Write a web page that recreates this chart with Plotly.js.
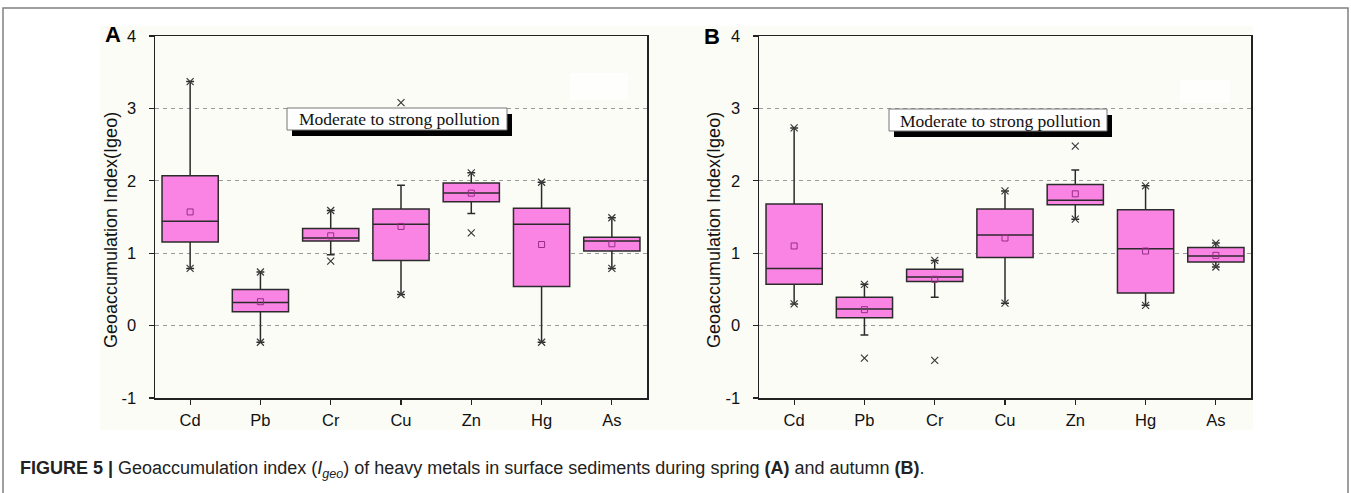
<!DOCTYPE html>
<html>
<head>
<meta charset="utf-8">
<script src="https://cdn.plot.ly/plotly-3.0.1.min.js"></script>
<style>html,body{margin:0;padding:0;background:#fff;}#chart{width:1351px;height:493px;}</style>
</head>
<body>
<div id="chart"></div>
<script>
// ---- data ----
const metals = ["Cd", "Pb", "Cr", "Cu", "Zn", "Hg", "As"];
const yTicks = [-1, 0, 1, 2, 3, 4];
const yTickText = ["-1", "0", "1", "2", "3", "4"];

// Panel A (spring)
const lowA    = [0.79, -0.23, 0.98, 0.43, 1.55, -0.23, 0.79];
const q1A     = [1.155, 0.19, 1.17, 0.90, 1.71, 0.54, 1.03];
const medianA = [1.44, 0.32, 1.21, 1.40, 1.83, 1.40, 1.17];
const q3A     = [2.07, 0.50, 1.34, 1.61, 1.97, 1.62, 1.22];
const highA   = [3.37, 0.74, 1.59, 1.94, 2.11, 1.98, 1.49];
const meanA   = [1.57, 0.33, 1.24, 1.37, 1.83, 1.12, 1.13];
const minA    = [0.79, -0.23, 0.89, 0.43, 1.28, -0.23, 0.79];
const maxA    = [3.37, 0.74, 1.59, 3.08, 2.11, 1.98, 1.49];

// Panel B (autumn)
const lowB    = [0.30, -0.13, 0.39, 0.31, 1.47, 0.28, 0.81];
const q1B     = [0.57, 0.11, 0.61, 0.94, 1.67, 0.45, 0.88];
const medianB = [0.79, 0.23, 0.67, 1.25, 1.73, 1.06, 0.96];
const q3B     = [1.68, 0.39, 0.78, 1.61, 1.95, 1.60, 1.08];
const highB   = [2.73, 0.57, 0.90, 1.86, 2.15, 1.93, 1.14];
const meanB   = [1.10, 0.22, 0.64, 1.21, 1.82, 1.03, 0.97];
const minB    = [0.30, -0.45, -0.48, 0.31, 1.47, 0.28, 0.81];
const maxB    = [2.73, 0.57, 0.90, 1.86, 2.48, 1.93, 1.14];

const labelText = "Moderate to strong pollution";
const yTitle = "Geoaccumulation Index(Igeo)";
const caption = "<b>FIGURE 5 |</b> Geoaccumulation index (<i>I<sub>geo</sub></i>) of heavy metals in surface sediments during spring <b>(A)</b> and autumn <b>(B)</b>.";

// ---- layout helpers ----
const W = 1351, H = 493;
const px = x => x / W;
const py = y => 1 - y / H;

const PINK = "#F984E4";
const EDGE = "#2b2b2b";

function panelTraces(xa, ya, q1, med, q3, lo, hi, mean, mn, mx) {
  return [
    {
      type: "box", xaxis: xa, yaxis: ya, x: metals,
      q1: q1, median: med, q3: q3, lowerfence: lo, upperfence: hi,
      boxpoints: false, width: 0.8, whiskerwidth: 0.14,
      fillcolor: PINK, line: { color: EDGE, width: 1.5 },
      hoverinfo: "skip", showlegend: false
    },
    {
      type: "scatter", mode: "markers", xaxis: xa, yaxis: ya,
      x: metals.concat(metals), y: mn.concat(mx),
      marker: { symbol: "x-thin-open", size: 7, color: "#3a3a3a", line: { color: "#3a3a3a", width: 1.2 } },
      hoverinfo: "skip", showlegend: false
    },
    {
      type: "scatter", mode: "markers", xaxis: xa, yaxis: ya,
      x: metals, y: mean,
      marker: { symbol: "square-open", size: 6, color: "#9a2c88", line: { width: 1 } },
      hoverinfo: "skip", showlegend: false
    }
  ];
}

const data = []
  .concat(panelTraces("x", "y", q1A, medianA, q3A, lowA, highA, meanA, minA, maxA))
  .concat(panelTraces("x2", "y2", q1B, medianB, q3B, lowB, highB, meanB, minB, maxB));

const tickFont = { family: "Liberation Sans, Arial, sans-serif", size: 16.5, color: "#111" };

function xAxis(domain, anchor) {
  return {
    domain: domain, anchor: anchor, type: "category",
    range: [-0.5, 6.5], showline: true, mirror: true, linecolor: "#222", linewidth: 1.5,
    ticks: "outside", ticklen: 5, tickwidth: 1.2, tickcolor: "#222",
    showgrid: false, zeroline: false, tickfont: tickFont, ticklabelstandoff: 2, fixedrange: true
  };
}
function yAxis(domain, anchor) {
  return {
    domain: domain, anchor: anchor, range: [-1, 4], tickvals: yTicks, ticktext: yTickText,
    showline: true, mirror: true, linecolor: "#222", linewidth: 1.5,
    ticks: "outside", ticklen: 5, tickwidth: 1.2, tickcolor: "#222",
    showgrid: true, gridcolor: "#9a9a9a", gridwidth: 1, griddash: "4px,4px",
    zeroline: false, tickfont: tickFont, ticklabelstandoff: 9, fixedrange: true
  };
}

const yDom = [py(398), py(36)];

const shapes = [
  // figure image background
  { type: "rect", xref: "paper", yref: "paper", x0: px(100), x1: px(1253), y0: py(430), y1: py(26),
    fillcolor: "#FCFCF7", line: { width: 0 }, layer: "below" },
  // outer frame
  { type: "path", xref: "paper", yref: "paper",
    path: `M ${px(3)} ${py(500)} L ${px(3)} ${py(8)} L ${px(1348)} ${py(8)} L ${px(1348)} ${py(500)}`,
    line: { color: "#808080", width: 1.5 } },
  // faint white patches (remnant)
  { type: "rect", xref: "paper", yref: "paper", x0: px(570), x1: px(628), y0: py(100), y1: py(73),
    fillcolor: "#fefefd", line: { width: 0 }, layer: "below" },
  { type: "rect", xref: "paper", yref: "paper", x0: px(1180), x1: px(1230), y0: py(103), y1: py(80),
    fillcolor: "#fefefd", line: { width: 0 }, layer: "below" },
  // label shadows
  { type: "rect", xref: "paper", yref: "paper", x0: px(292), x1: px(512), y0: py(136), y1: py(114),
    fillcolor: "#000", line: { width: 0 }, layer: "above" },
  { type: "rect", xref: "paper", yref: "paper", x0: px(894), x1: px(1112), y0: py(137), y1: py(115),
    fillcolor: "#000", line: { width: 0 }, layer: "above" },
  // label boxes
  { type: "rect", xref: "paper", yref: "paper", x0: px(287), x1: px(507), y0: py(130), y1: py(108),
    fillcolor: "#fff", line: { color: "#777", width: 1 }, layer: "above" },
  { type: "rect", xref: "paper", yref: "paper", x0: px(889), x1: px(1107), y0: py(131), y1: py(109),
    fillcolor: "#fff", line: { color: "#777", width: 1 }, layer: "above" }
];

const serif = { family: "Liberation Serif, Times New Roman, serif", size: 17.5, color: "#111" };
const sans = "Liberation Sans, Arial, sans-serif";
const annotations = [
  { xref: "paper", yref: "paper", x: px(399), y: py(119.5), text: labelText, showarrow: false,
    xanchor: "center", yanchor: "middle", font: serif },
  { xref: "paper", yref: "paper", x: px(1000), y: py(120.5), text: labelText, showarrow: false,
    xanchor: "center", yanchor: "middle", font: serif },
  { xref: "paper", yref: "paper", x: px(111), y: py(230), text: yTitle, textangle: -90, showarrow: false,
    xanchor: "center", yanchor: "middle", font: { family: sans, size: 18, color: "#111" } },
  { xref: "paper", yref: "paper", x: px(714), y: py(230), text: yTitle, textangle: -90, showarrow: false,
    xanchor: "center", yanchor: "middle", font: { family: sans, size: 18, color: "#111" } },
  { xref: "paper", yref: "paper", x: px(113), y: py(35), text: "<b>A</b>", showarrow: false,
    xanchor: "center", yanchor: "middle", font: { family: sans, size: 22, color: "#000" } },
  { xref: "paper", yref: "paper", x: px(712), y: py(36), text: "<b>B</b>", showarrow: false,
    xanchor: "center", yanchor: "middle", font: { family: sans, size: 22, color: "#000" } },
  { xref: "paper", yref: "paper", x: px(18), y: py(469), text: caption, showarrow: false,
    xanchor: "left", yanchor: "middle", font: { family: sans, size: 18, color: "#222" } }
];

const layout = {
  width: W, height: H,
  margin: { l: 0, r: 0, t: 0, b: 0, pad: 0 },
  paper_bgcolor: "#ffffff", plot_bgcolor: "#FCFCF7",
  showlegend: false,
  xaxis: xAxis([px(155), px(647)], "y"),
  yaxis: yAxis(yDom, "x"),
  xaxis2: xAxis([px(759), px(1251)], "y2"),
  yaxis2: yAxis(yDom, "x2"),
  shapes: shapes,
  annotations: annotations
};

Plotly.newPlot("chart", data, layout, { displayModeBar: false, staticPlot: true });
</script>
</body>
</html>
